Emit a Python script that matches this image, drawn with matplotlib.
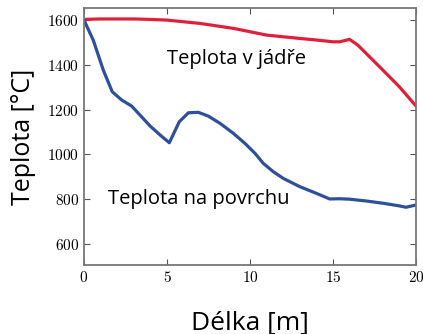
import matplotlib
matplotlib.use("Agg")
import matplotlib.pyplot as plt
from matplotlib.ticker import FuncFormatter

plt.rcParams['mathtext.fontset'] = 'cm'

core_x = [0, 0.96, 3, 4, 5, 7, 9, 10, 11, 13, 14, 15, 15.4, 16, 16.5, 17, 18, 19, 20]
core_y = [1603, 1605, 1605, 1603, 1600, 1585, 1563, 1548, 1533, 1518, 1511, 1503, 1503, 1514, 1488, 1451, 1377, 1302, 1216]

surf_x = [0, 0.56, 1.16, 1.7, 2.27, 2.87, 3.37, 3.98, 4.58, 5.14, 5.74, 6.29, 6.89, 7.49, 8.19, 9, 9.7,
          10.3, 10.8, 11.4, 12, 13, 14, 14.8, 15.4, 16, 17, 18, 19, 19.4, 20]
surf_y = [1600, 1510, 1377, 1280, 1243, 1216, 1176, 1127, 1087, 1052, 1146, 1186, 1188, 1171, 1139, 1094, 1049,
          1005, 960, 923, 893, 856, 826, 801, 802, 800, 792, 782, 770, 764, 774]

xticks = [0, 5, 10, 15, 20]
yticks = [600, 800, 1000, 1200, 1400, 1600]

fig = plt.figure(figsize=(4.23, 3.34), dpi=100)
ax = fig.add_axes([84/423, 1 - 265/334, 332/423, 257/334])

ax.plot(core_x, core_y, color='#e0203a', lw=2.3)
ax.plot(surf_x, surf_y, color='#2e4f9a', lw=2.3)

ax.set_xlim(0, 20)
ax.set_ylim(506, 1654)
ax.set_xticks(xticks)
ax.set_yticks(yticks)
ax.xaxis.set_major_formatter(FuncFormatter(lambda v, p: r'$%d$' % v))
ax.yaxis.set_major_formatter(FuncFormatter(lambda v, p: r'$%d$' % v))
ax.tick_params(direction='in', top=True, right=True, labelsize=11, length=4, color='#555555')
for s in ax.spines.values():
    s.set_color('#777777')
    s.set_linewidth(1.3)

ax.text(9.2, 1426, 'Teplota v jádře', family='Open Sans', fontsize=14.5, ha='center', va='center')
ax.text(6.9, 800, 'Teplota na povrchu', family='Open Sans', fontsize=14.5, ha='center', va='center')

ax.set_xlabel('Délka [m]', family='Open Sans', fontsize=19, labelpad=18)
ax.set_ylabel('Teplota [°C]', family='Open Sans', fontsize=18, labelpad=8)

fig.savefig('out.png', dpi=100)
